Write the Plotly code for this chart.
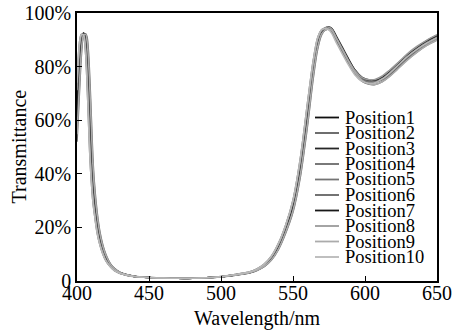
import plotly.graph_objects as go

# ---- data ----
wavelength = [400, 401, 402, 403, 404.5, 406, 407, 408, 409, 410, 411, 412, 414, 416, 418,
              420, 423, 426, 430, 435, 440, 450, 460, 470, 480, 490, 500, 510, 520, 525,
              530, 535, 540, 545, 550, 555, 560, 564, 567, 570, 574, 577, 580, 584, 588,
              593, 598, 603, 607, 612, 617, 622, 629, 636, 643, 650]

position1 = [63, 74, 84, 90, 92.5, 91, 85, 74, 60, 46, 37, 30, 21.5, 15.5, 11.5, 8.5, 6, 4.3, 3, 2.2,
             1.7, 1.3, 1.1, 1.0, 1.0, 1.2, 1.6, 2.3, 3.2, 4.2, 5.8, 8.5, 13, 19.5, 28, 42, 62, 79, 88.5, 93,
             94.5, 93.5, 90.5, 86.5, 82.5, 78, 75.3, 74.3, 74.3, 75.5, 77.5, 80, 83.5, 86.5, 89, 91]
position2 = [57.5, 68.5, 79, 87, 92, 91.8, 88, 79.5, 67, 53, 41.5, 33.5, 23.5, 16.8, 12.4, 9.2, 6.3, 4.5, 3.1, 2.25,
             1.7, 1.3, 1.1, 1.0, 1.0, 1.2, 1.6, 2.25, 3.1, 4.1, 5.6, 8.1, 12.4, 18.8, 26.9, 40.3, 59.8, 77.3, 87.5, 92.6,
             94.5, 93.8, 91, 87, 83, 78.3, 75.5, 74.3, 74.2, 75.3, 77.3, 79.8, 83.3, 86.3, 88.9, 90.9]
position3 = [68.5, 79, 87.5, 91.2, 92.3, 88.5, 80, 67, 53, 41.5, 33.5, 27.8, 19.8, 14.4, 10.8, 8, 5.7, 4.1, 2.9, 2.15,
             1.7, 1.3, 1.1, 1.0, 1.0, 1.2, 1.6, 2.35, 3.3, 4.35, 6, 8.8, 13.5, 20.2, 29.1, 43.7, 64, 80.5, 89.5, 93.4,
             94.5, 93.2, 90, 86, 82, 77.7, 75.1, 74.3, 74.4, 75.7, 77.8, 80.2, 83.8, 86.7, 89.1, 91.1]
position4 = [52, 63, 74, 84, 91.5, 92.2, 91, 85, 74, 60, 46, 37, 25.5, 18, 13.3, 10, 6.6, 4.7, 3.2, 2.3,
             1.75, 1.35, 1.1, 1.0, 1.0, 1.15, 1.55, 2.2, 3.05, 3.95, 5.35, 7.8, 11.9, 18, 25.8, 38.6, 57.7, 75.5, 86.3, 92,
             94.5, 94.1, 91.5, 87.5, 83.4, 78.7, 75.7, 74.3, 74.15, 75.15, 77.05, 79.5, 83.0, 86.1, 88.7, 90.7]
position5 = [74, 84, 90, 92, 91.8, 85, 74, 60, 46, 37, 30, 25.5, 18, 13.3, 10, 7.6, 5.4, 3.9, 2.8, 2.1,
             1.65, 1.3, 1.1, 1.0, 1.0, 1.2, 1.65, 2.4, 3.4, 4.5, 6.3, 9.2, 14.1, 21, 30.2, 45.4, 66, 82, 90.5, 93.8,
             94.4, 92.8, 89.5, 85.5, 81.6, 77.4, 75, 74.3, 74.5, 75.9, 78, 80.5, 84, 86.9, 89.3, 91.3]
position6 = [57.5, 68.5, 79, 87, 92, 91.8, 88, 79.5, 67, 53, 41.5, 33.5, 23.5, 16.8, 12.4, 9.2, 6.3, 4.5, 3.1, 2.25,
             1.7, 1.3, 1.1, 1.0, 1.0, 1.2, 1.6, 2.25, 3.1, 4.1, 5.6, 8.1, 12.4, 18.8, 26.9, 40.3, 59.8, 77.3, 87.5, 92.6,
             94, 93, 90, 86, 82, 77.3, 74.5, 73.4, 73.3, 74.4, 76.4, 78.9, 82.4, 85.4, 88, 90]
position7 = [60, 71, 81.5, 88.5, 92.3, 91.5, 86.5, 77, 63.5, 49.5, 39, 31.8, 22.5, 16.1, 12, 8.8, 6.1, 4.4, 3.05, 2.2,
             1.7, 1.3, 1.1, 1.0, 1.0, 1.2, 1.6, 2.3, 3.15, 4.15, 5.7, 8.3, 12.7, 19.1, 27.4, 41.1, 60.9, 78.1, 88, 92.8,
             94.8, 94.2, 91.2, 87.2, 83.2, 78.7, 76, 75, 75, 76.2, 78.2, 80.7, 84.2, 87.2, 89.7, 91.7]
position8 = [71.2, 81.5, 88.8, 91.6, 92, 86.8, 77, 63.5, 49.5, 39.2, 31.8, 26.6, 18.9, 13.8, 10.4, 7.8, 5.5, 4, 2.85, 2.1,
             1.7, 1.3, 1.1, 1.0, 1.0, 1.2, 1.6, 2.4, 3.35, 4.4, 6.15, 9, 13.8, 20.6, 29.6, 44.5, 65, 81.2, 90, 93.6,
             94.8, 94, 90.8, 86.8, 82.8, 78.5, 75.9, 75.1, 75.2, 76.5, 78.6, 81, 84.6, 87.5, 89.9, 91.9]
position9 = [54.8, 65.8, 76.5, 85.5, 91.8, 92, 89.5, 82.2, 70.5, 56.5, 43.8, 35.2, 24.5, 17.4, 12.8, 9.6, 6.4, 4.6, 3.15, 2.3,
             1.7, 1.3, 1.1, 1.0, 1.0, 1.2, 1.6, 2.2, 3.1, 4.0, 5.5, 7.9, 12.1, 18.4, 26.3, 39.4, 58.7, 76.4, 86.9, 92.3,
             94, 93.4, 90.7, 86.7, 82.6, 77.9, 74.9, 73.5, 73.35, 74.35, 76.25, 78.7, 82.2, 85.3, 87.9, 89.9]
position10 = [74, 84, 90, 92, 91.8, 85, 74, 60, 46, 37, 30, 25.5, 18, 13.3, 10, 7.6, 5.4, 3.9, 2.8, 2.1,
              1.65, 1.3, 1.1, 1.0, 1.0, 1.2, 1.65, 2.4, 3.4, 4.5, 6.3, 9.2, 14.1, 21, 30.2, 45.4, 66, 82, 90.5, 93.8,
              94, 92.3, 89, 85, 81.1, 76.9, 74.5, 73.8, 74, 75.4, 77.5, 80, 83.5, 86.4, 88.8, 90.8]

series_names = ["Position1", "Position2", "Position3", "Position4", "Position5",
                "Position6", "Position7", "Position8", "Position9", "Position10"]
series_values = [position1, position2, position3, position4, position5,
                 position6, position7, position8, position9, position10]
series_colors = ["#101010", "#5e5e5e", "#262626", "#6a6a6a", "#747474",
                 "#646464", "#181818", "#9a9a9a", "#ababab", "#b8b8b8"]

x_ticks = [400, 450, 500, 550, 600, 650]
y_ticks = [0, 20, 40, 60, 80, 100]
y_tick_labels = ["0", "20%", "40%", "60%", "80%", "100%"]
x_title = "Wavelength/nm"
y_title = "Transmittance"

FONT = "Liberation Serif"

fig = go.Figure()
for name, vals, col in zip(series_names, series_values, series_colors):
    fig.add_trace(go.Scatter(x=wavelength, y=vals, mode="lines", name=name,
                             line=dict(color=col, width=1.6, shape="spline", smoothing=0.8),
                             showlegend=False))

# custom compact legend (text + line samples)
PL, PR, PT, PB = 77, 437, 13, 281
W, H = PR - PL, PB - PT
for i, (name, col) in enumerate(zip(series_names, series_colors)):
    ypix = 117.5 + 15.5 * i
    yp = (PB - ypix) / H
    fig.add_shape(type="line", xref="paper", yref="paper",
                  x0=(315 - PL) / W, x1=(339 - PL) / W, y0=yp, y1=yp,
                  line=dict(color=col, width=1.8))
    fig.add_annotation(text=name, xref="paper", yref="paper",
                       x=(344 - PL) / W, y=yp, xanchor="left", yanchor="middle",
                       showarrow=False, borderpad=0,
                       font=dict(family=FONT, size=18.5, color="black"))

# axis titles as positioned annotations
fig.add_annotation(text=x_title, xref="paper", yref="paper", x=0.5, y=(PB - 331) / H,
                   xanchor="center", yanchor="bottom", showarrow=False, borderpad=0,
                   font=dict(family=FONT, size=20, color="black"))
fig.add_annotation(text=y_title, xref="paper", yref="paper", x=(18.5 - PL) / W, y=0.5,
                   xanchor="center", yanchor="middle", showarrow=False, textangle=-90,
                   font=dict(family=FONT, size=20, color="black"))

fig.update_layout(
    width=452, height=331,
    margin=dict(l=PL, r=452 - PR, t=PT, b=331 - PB, autoexpand=False),
    paper_bgcolor="white", plot_bgcolor="white",
    font=dict(family=FONT, size=19, color="black"),
)
fig.update_xaxes(range=[400, 650], tickvals=x_ticks, ticks="inside", ticklen=5, tickwidth=1.2,
                 tickcolor="black", showline=True, linecolor="black", linewidth=1.5, mirror=True,
                 showgrid=False, zeroline=False, automargin=False, ticklabelstandoff=-7,
                 tickfont=dict(family=FONT, size=20, color="black"))
fig.update_yaxes(range=[0, 100], tickvals=y_ticks, ticktext=y_tick_labels, ticks="inside", ticklen=5,
                 tickwidth=1.2, tickcolor="black", showline=True, linecolor="black", linewidth=1.5, mirror=True,
                 showgrid=False, zeroline=False, automargin=False,
                 tickfont=dict(family=FONT, size=20, color="black"))

fig.write_html("out.html")
